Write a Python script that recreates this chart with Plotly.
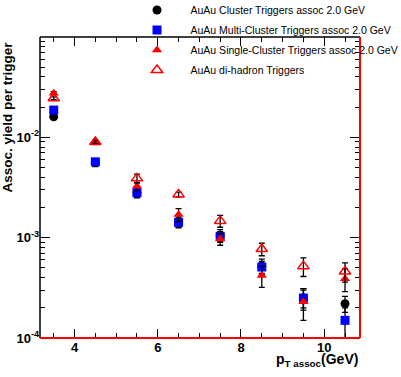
import plotly.graph_objects as go

# ---- data ----
pt = [3.5, 4.5, 5.5, 6.5, 7.5, 8.5, 9.5, 10.5]

cluster_y = [1.6e-2, 5.6e-3, 2.8e-3, 1.45e-3, 1.05e-3, 5.2e-4, 2.5e-4, 2.2e-4]
cluster_err = [6e-4, 5e-4, 3e-4, 2e-4, 1.5e-4, 9e-5, 6e-5, 4e-5]

multi_y = [1.87e-2, 5.7e-3, 2.8e-3, 1.42e-3, 1.03e-3, 5.1e-4, 2.5e-4, 1.5e-4]
multi_err = [6e-4, 4e-4, 2.5e-4, 1.5e-4, 1.2e-4, 7e-5, 5e-5, 5e-5]

single_y = [2.75e-2, 9.0e-3, 3.25e-3, 1.7e-3, 9.7e-4, 4.2e-4, 2.3e-4, 3.9e-4]
single_err = [1.0e-3, 4e-4, 3e-4, 2.5e-4, 1.3e-4, 1.0e-4, 8e-5, 1.0e-4]

dihadron_y = [2.45e-2, 9.0e-3, 3.9e-3, 2.7e-3, 1.47e-3, 7.7e-4, 5.2e-4, 4.6e-4]
dihadron_err = [8e-4, 3e-4, 4e-4, 1.5e-4, 2e-4, 1.1e-4, 1.1e-4, 1.0e-4]

names = [
    "AuAu Cluster Triggers assoc 2.0 GeV",
    "AuAu Multi-Cluster Triggers assoc 2.0 GeV",
    "AuAu Single-Cluster Triggers assoc 2.0 GeV",
    "AuAu di-hadron Triggers",
]

ytickvals = [1e-4, 1e-3, 1e-2]
yticktext = ["10<sup>-4</sup>", "10<sup>-3</sup>", "10<sup>-2</sup>"]

series = [
    (cluster_y, cluster_err, "circle", "black", 9),
    (multi_y, multi_err, "square", "#0000ff", 9),
    (single_y, single_err, "triangle-up", "#ff0000", 9),
    (dihadron_y, dihadron_err, "triangle-up-open", "#ff0000", 10),
]

fig = go.Figure()
for i, ((yv, ev, sym, col, sz), nm) in enumerate(zip(series, names)):
    fig.add_trace(go.Scatter(
        x=pt, y=yv, mode="markers", name=nm, legendgroup=f"g{i}",
        marker=dict(symbol=sym, color=col, size=sz,
                    line=dict(width=1.5 if "open" in sym else 0, color=col)),
        error_y=dict(type="data", array=ev, color="black", thickness=1.3, width=3),
    ))

minor_y = [m * 10 ** e for e in (-4, -3, -2) for m in range(2, 10)]

font_main = "Liberation Sans, Arial, sans-serif"
fig.update_layout(
    width=401, height=377,
    margin=dict(l=40, r=41, t=37, b=39, autoexpand=False),
    paper_bgcolor="white", plot_bgcolor="white",
    font=dict(family=font_main, color="black"),
    showlegend=True,
    legend=dict(
        x=0.261, y=1.138,
        xanchor="left", yanchor="top",
        font=dict(size=10.5, family=font_main),
        itemwidth=57, tracegroupgap=1, bgcolor="rgba(0,0,0,0)",
    ),
    xaxis=dict(
        range=[3.17, 10.86], showgrid=False, zeroline=False, showline=False,
        ticks="inside", ticklen=9, tickwidth=1, tickcolor="black",
        dtick=2, tick0=0, mirror="ticks",
        tickfont=dict(size=13, family=font_main, weight="bold"),
        minor=dict(dtick=0.5, tick0=0, ticks="inside", ticklen=5, tickcolor="black"),
    ),
    yaxis=dict(
        type="log", range=[-4, -1], showgrid=False, zeroline=False, showline=False,
        ticks="inside", ticklen=10, tickwidth=1, tickcolor="black",
        tickmode="array", tickvals=ytickvals, ticktext=yticktext, mirror="ticks",
        tickfont=dict(size=13, family=font_main, weight="bold"),
        minor=dict(tickmode="array", tickvals=minor_y, ticks="inside", ticklen=5, tickcolor="black"),
    ),
    shapes=[
        dict(type="line", xref="paper", yref="paper", x0=0, x1=0, y0=0, y1=1, line=dict(color="black", width=1.5)),
        dict(type="line", xref="paper", yref="paper", x0=0, x1=1, y0=1, y1=1, line=dict(color="black", width=1.5)),
        dict(type="line", xref="paper", yref="paper", x0=0, x1=1, y0=0, y1=0, line=dict(color="red", width=2)),
        dict(type="line", xref="paper", yref="paper", x0=1, x1=1, y0=0, y1=1, line=dict(color="red", width=2)),
    ],
    annotations=[
        dict(text="<b>Assoc. yield per trigger</b>", textangle=-90, xref="paper", yref="paper",
             x=-0.1, y=0.99, xanchor="center", yanchor="top", showarrow=False,
             font=dict(size=13.5, family=font_main)),
        dict(text="<b>p<sub>T assoc</sub>(GeV)</b>", xref="paper", yref="paper",
             x=1.0, y=-0.073, xanchor="right", yanchor="middle", showarrow=False,
             font=dict(size=14, family=font_main)),
    ],
)

fig.write_html("out.html",
               config={"displayModeBar": False},
               post_script="document.body.style.margin='0';document.body.style.padding='0';")
